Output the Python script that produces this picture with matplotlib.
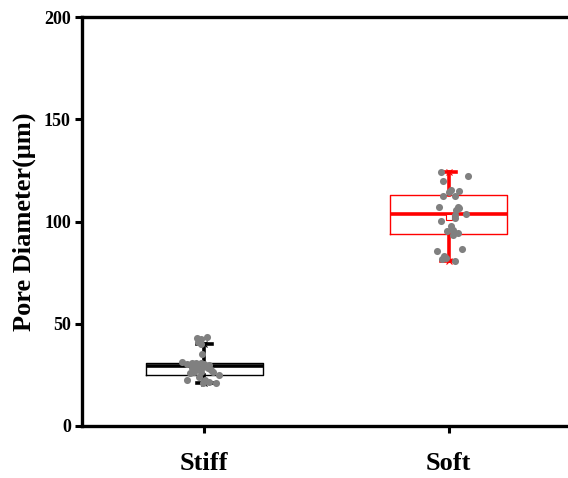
import matplotlib
matplotlib.use("Agg")
import matplotlib.pyplot as plt
import numpy as np

plt.rcParams["font.family"] = ["Liberation Serif", "DejaVu Serif"]
plt.rcParams["font.weight"] = "bold"

groups = ["Stiff", "Soft"]
box_colors = ["black", "red"]

# box statistics
q1 = [24.9, 93.7]
med = [29.1, 103.5]
q3 = [30.8, 113.0]
whislo = [20.9, 80.7]
whishi = [40.1, 124.2]
means = [28.5, 102.0]

# individual measurements (x offset from group centre, value)
stiff_dx = [-0.03, -0.015, 0.01, -0.027, -0.013, -0.011, -0.09, -0.07, -0.05, -0.035,
            -0.013, 0.0, 0.02, -0.05, -0.03, -0.007, 0.014, 0.028, -0.06, -0.04,
            -0.013, 0.034, 0.061, -0.07, -0.02, 0.005, 0.021, 0.048, -0.007]
stiff_val = [42.9, 42.4, 43.4, 41.2, 40.1, 35.2, 31.4, 30.2, 31.0, 30.6,
             31.0, 30.2, 29.8, 28.2, 28.5, 29.0, 28.2, 27.4, 25.8, 26.6,
             26.6, 26.6, 24.9, 22.5, 24.1, 22.5, 21.7, 21.2, 20.9]
soft_dx = [-0.032, 0.078, -0.022, 0.009, 0.043, -0.022, 0.0, 0.024, -0.041, 0.037,
           0.043, 0.03, 0.071, 0.024, 0.024, -0.032, 0.009, -0.007, 0.016, 0.037,
           -0.05, 0.056, -0.018, -0.011, -0.027, 0.027, 0.016]
soft_val = [124.4, 122.2, 120.0, 115.4, 114.9, 112.5, 114.3, 112.5, 107.2, 107.2,
            106.5, 105.6, 103.7, 103.2, 101.6, 100.2, 98.0, 95.5, 95.8, 94.2,
            85.7, 86.7, 83.1, 82.0, 81.7, 80.8, 93.4]

fig = plt.figure(figsize=(5.68, 4.78), dpi=100)
ax = fig.add_axes([82 / 568, 52 / 478, (571 - 82) / 568, (426 - 17) / 478])

positions = [1, 2]
for i, pos in enumerate(positions):
    c = box_colors[i]
    stats = [dict(med=med[i], q1=q1[i], q3=q3[i], whislo=whislo[i], whishi=whishi[i],
                  mean=means[i], fliers=[])]
    ax.bxp(stats, positions=[pos], widths=0.48, showmeans=(i == 1), patch_artist=False,
           boxprops=dict(color=c, linewidth=1.0),
           medianprops=dict(color=c, linewidth=2.6),
           whiskerprops=dict(color=c, linewidth=2.6),
           capprops=dict(color=c, linewidth=2.6),
           meanprops=dict(marker="s", markerfacecolor="white", markeredgecolor=c,
                          markersize=5, markeredgewidth=0.8),
           capwidths=0.06, manage_ticks=False)
    ax.plot([pos, pos], [whislo[i], whishi[i]], linestyle="none", marker="x",
            color=c, markersize=4, markeredgewidth=0.8, zorder=3)

ax.scatter(1 + np.array(stiff_dx), stiff_val, s=26, color="#808080", zorder=4, linewidths=0)
ax.scatter(2 + np.array(soft_dx), soft_val, s=26, color="#808080", zorder=4, linewidths=0)

ax.set_xlim(0.5, 2.5)
ax.set_ylim(0, 200)
ax.set_xticks(positions)
ax.set_xticklabels(groups, fontsize=19, fontweight="bold")
ax.set_yticks([0, 50, 100, 150, 200])
ax.tick_params(axis="y", labelsize=13, width=2.2, length=5, direction="out", pad=3)
ax.tick_params(axis="x", width=2.2, length=5, direction="out", pad=14)
ax.set_ylabel("Pore Diameter(μm)", fontsize=19, fontweight="bold", labelpad=6)

for s in ["left", "bottom", "top"]:
    ax.spines[s].set_linewidth(2.4)
ax.spines["right"].set_visible(False)

fig.savefig("out.png", dpi=100)
